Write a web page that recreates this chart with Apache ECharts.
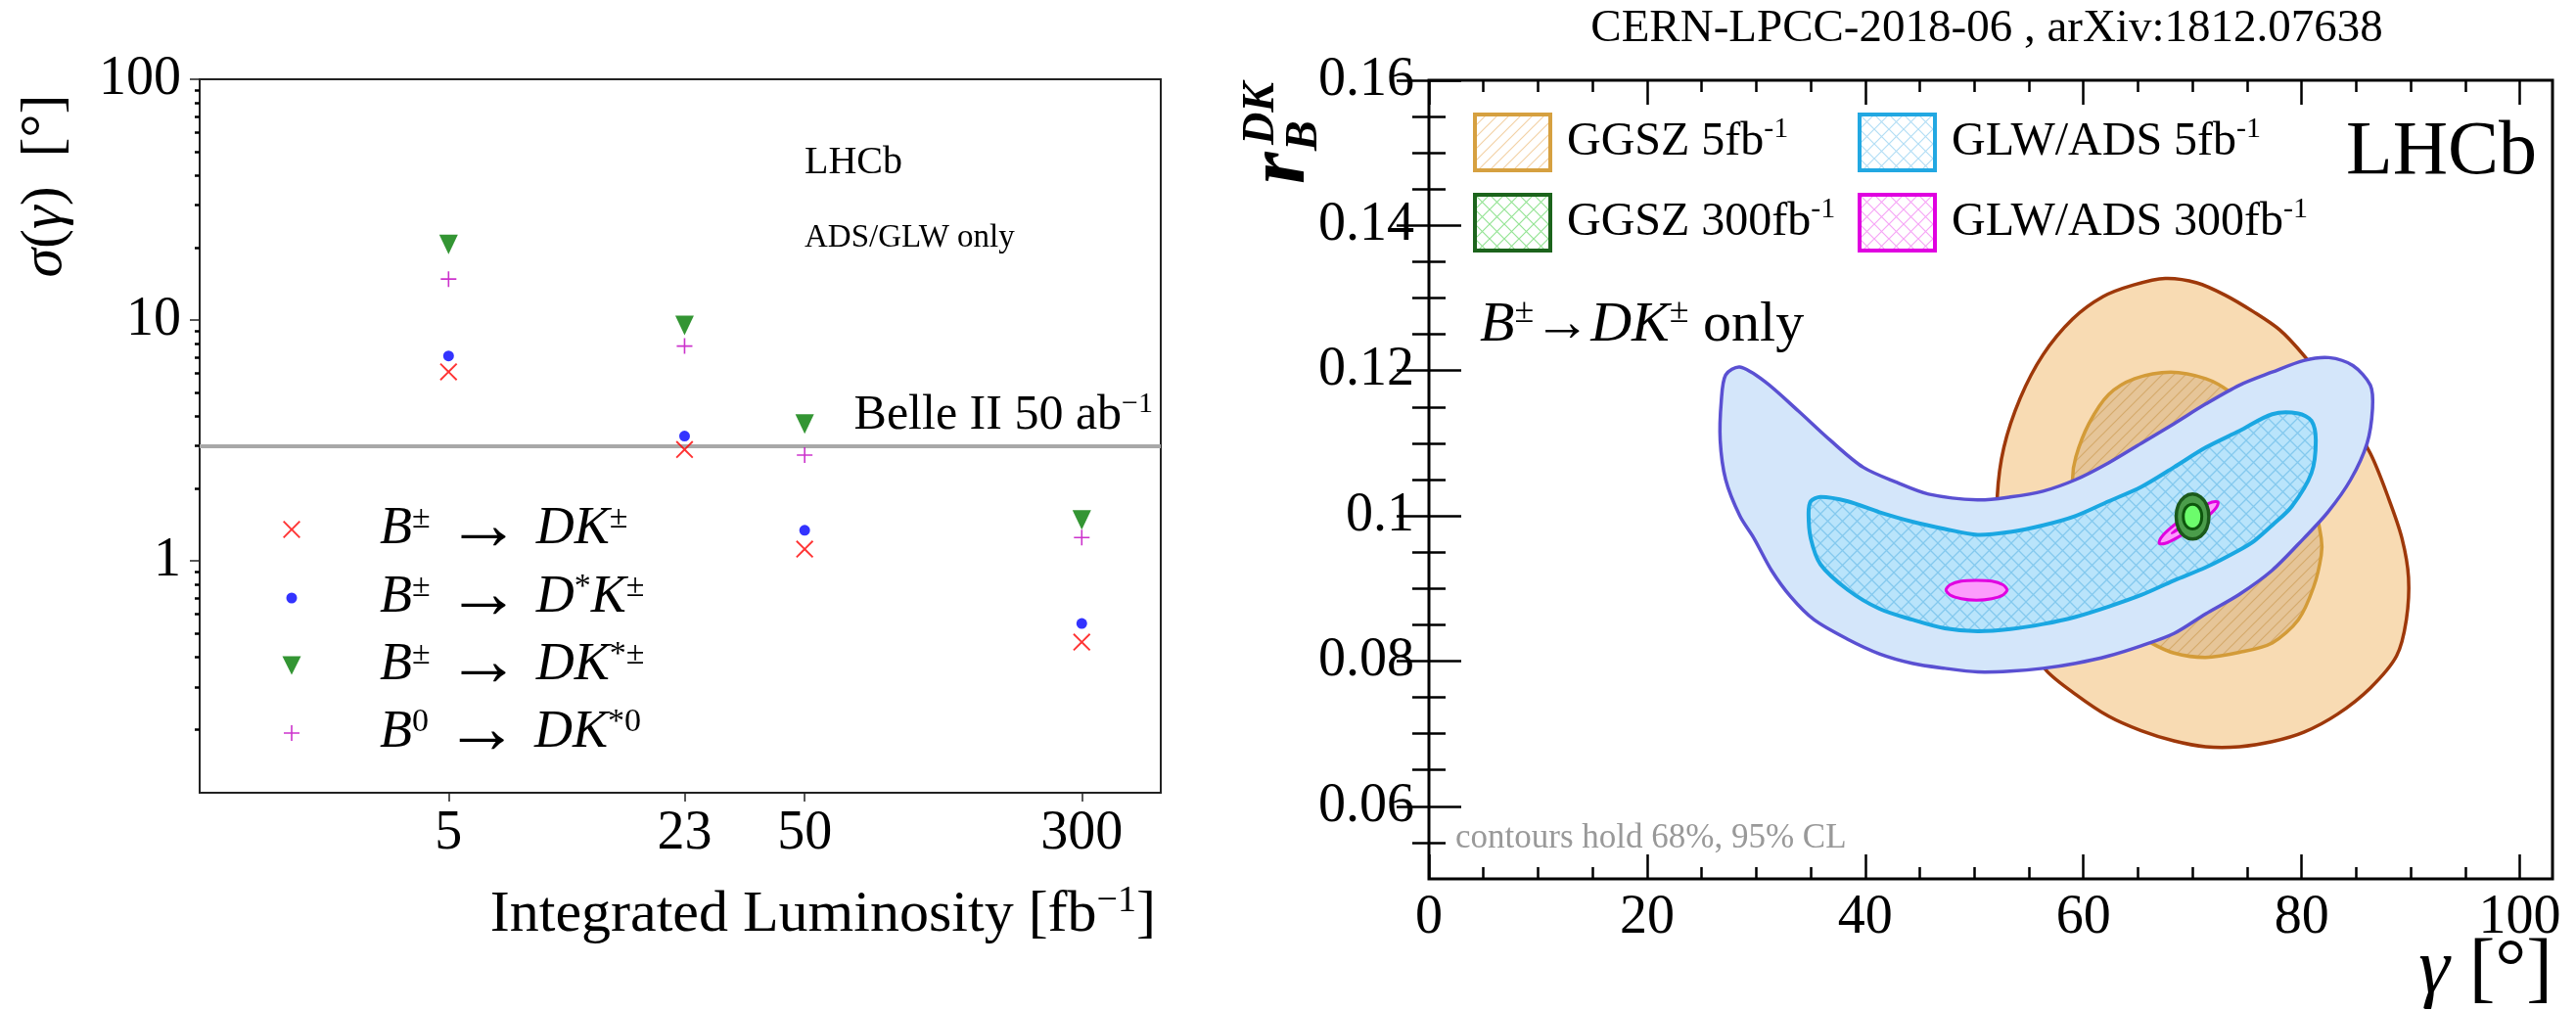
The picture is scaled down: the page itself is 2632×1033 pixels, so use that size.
<!DOCTYPE html>
<html>
<head>
<meta charset="utf-8">
<script src="https://cdn.jsdelivr.net/npm/echarts@6/dist/echarts.min.js"></script>
<style>
html,body{margin:0;padding:0;background:#fff;}
#main{width:2632px;height:1033px;}
</style>
</head>
<body>
<div id="main"></div>
<script>
// ---- left panel: sigma(gamma) vs integrated luminosity ----
var luminosity = [5, 23, 50, 300];
var sigmaDK   = [6.1, 2.9, 1.12, 0.46];
var sigmaDstK = [7.1, 3.3, 1.34, 0.55];
var sigmaDKst = [20.6, 9.5, 3.7, 1.48];
var sigmaDK0  = [14.8, 7.8, 2.75, 1.25];
var belle2 = 3.0;
var lumiTicks = [5, 23, 50, 300];
var sigmaTicks = [1, 10, 100];
var sigmaMinor = [0.2, 0.3, 0.4, 0.5, 0.6, 0.7, 0.8, 0.9, 2, 3, 4, 5, 6, 7, 8, 9, 20, 30, 40, 50, 60, 70, 80, 90];

// ---- right panel: r_B vs gamma contours ----
var gammaTicks = [0, 20, 40, 60, 80, 100];
var gammaMinor = [5, 10, 15, 25, 30, 35, 45, 50, 55, 65, 70, 75, 85, 90, 95];
var rTicks = [0.06, 0.08, 0.1, 0.12, 0.14, 0.16];
var rMinor = [0.055, 0.065, 0.07, 0.075, 0.085, 0.09, 0.095, 0.105, 0.11, 0.115, 0.125, 0.13, 0.135, 0.145, 0.15, 0.155];

var ggsz5Outer = [[64.6,0.1318],[67.5,0.1327],[70.4,0.1321],[73.0,0.1304],[75.6,0.1281],[78.0,0.1256],[80.2,0.1221],[83.3,0.1162],[86.3,0.1086],[88.0,0.1023],[89.2,0.0969],[89.8,0.0915],[89.6,0.0857],[88.7,0.0807],[86.3,0.0763],[83.3,0.0727],[80.2,0.0702],[77.3,0.0689],[74.3,0.0682],[71.2,0.0682],[68.3,0.0690],[65.3,0.0704],[62.3,0.0724],[59.3,0.0754],[56.6,0.0787],[54.6,0.0834],[53.0,0.0902],[52.3,0.0982],[52.1,0.1027],[52.7,0.1094],[54.2,0.1162],[56.3,0.1222],[59.0,0.1271],[61.8,0.1302]];
var ggsz5Inner = [[68.0,0.1198],[71.2,0.1189],[73.4,0.1171],[76.4,0.1131],[79.1,0.1077],[80.9,0.1030],[81.8,0.0969],[81.8,0.0946],[81.1,0.0902],[79.7,0.0857],[77.3,0.0825],[74.3,0.0812],[71.2,0.0805],[68.3,0.0811],[66.2,0.0825],[63.8,0.0848],[61.1,0.0902],[59.3,0.0969],[59.0,0.1050],[59.3,0.1081],[60.5,0.1127],[62.3,0.1167],[64.7,0.1189]];
var glw5Outer = [[28.5,0.1205],[30.8,0.1185],[33.9,0.1144],[36.8,0.1104],[39.8,0.1067],[42.9,0.1046],[45.8,0.1030],[50.3,0.1022],[53.3,0.1026],[56.3,0.1034],[59.3,0.1050],[62.3,0.1073],[65.3,0.1100],[68.3,0.1127],[71.2,0.1154],[74.3,0.1180],[77.3,0.1198],[80.2,0.1214],[82.5,0.1218],[84.7,0.1207],[86.3,0.1180],[86.5,0.1148],[86.0,0.1100],[84.5,0.1050],[82.4,0.1005],[80.2,0.0969],[77.3,0.0925],[74.3,0.0892],[71.2,0.0865],[68.3,0.0838],[65.3,0.0821],[62.3,0.0807],[59.3,0.0797],[56.3,0.0790],[53.3,0.0786],[50.3,0.0785],[47.3,0.0790],[44.3,0.0797],[41.3,0.0810],[38.4,0.0830],[35.3,0.0857],[33.2,0.0888],[31.4,0.0925],[29.8,0.0969],[28.5,0.1000],[27.2,0.1050],[26.7,0.1104],[26.8,0.1158],[27.2,0.1194]];
var glw5Inner = [[35.9,0.1026],[38.4,0.1020],[41.3,0.1005],[44.3,0.0992],[47.3,0.0982],[50.3,0.0974],[53.3,0.0978],[56.3,0.0987],[59.3,0.1000],[62.3,0.1020],[65.3,0.1040],[68.3,0.1067],[71.2,0.1094],[74.3,0.1117],[77.3,0.1140],[79.7,0.1141],[80.9,0.1131],[81.3,0.1104],[80.9,0.1059],[79.1,0.1013],[77.3,0.0987],[75.7,0.0966],[74.3,0.0953],[71.2,0.0929],[68.3,0.0911],[65.3,0.0891],[62.3,0.0875],[59.3,0.0861],[56.3,0.0851],[53.3,0.0844],[50.3,0.0841],[47.3,0.0845],[44.3,0.0857],[41.3,0.0872],[38.4,0.0898],[35.9,0.0933],[35.0,0.0969],[34.8,0.1003],[35.0,0.1020]];
var ggsz300Outer = [[71.5,0.0999],[71.3,0.1015],[70.75,0.1026],[70.0,0.1030],[69.25,0.1026],[68.7,0.1015],[68.5,0.0999],[68.7,0.0983],[69.25,0.0972],[70.0,0.0968],[70.75,0.0972],[71.3,0.0983]];
var ggsz300Inner = [[70.85,0.0999],[70.74,0.1008],[70.43,0.1014],[70.0,0.1016],[69.57,0.1014],[69.26,0.1008],[69.15,0.0999],[69.26,0.0990],[69.57,0.0984],[70.0,0.0982],[70.43,0.0984],[70.74,0.0990]];
var glw300Outer = [[72.34,0.1019],[72.16,0.1011],[71.30,0.0998],[69.99,0.0983],[68.60,0.0970],[67.48,0.0962],[66.94,0.0962],[67.12,0.0970],[67.97,0.0983],[69.27,0.0998],[70.67,0.1011],[71.79,0.1019]];
var glw300Inner = [[71.2,0.1010],[70.9,0.1004],[70.2,0.0996],[69.4,0.0988],[68.6,0.0980],[68.1,0.0976],[68.3,0.0979],[68.9,0.0986],[69.7,0.0994],[70.5,0.1003]];
var glw300Second = [[53.0,0.0898],[52.62,0.0905],[51.6,0.0910],[50.2,0.0911],[48.8,0.0910],[47.78,0.0905],[47.4,0.0898],[47.78,0.0891],[48.8,0.0886],[50.2,0.0884],[51.6,0.0886],[52.62,0.0891]];

var FONT = "'Liberation Serif', 'Times New Roman', serif";

function makeHatch(bg, color, step, lw, dirs) {
	var c = document.createElement('canvas');
	c.width = step; c.height = step;
	var g = c.getContext('2d');
	if (bg) { g.fillStyle = bg; g.fillRect(0, 0, step, step); }
	g.strokeStyle = color; g.lineWidth = lw;
	g.beginPath();
	if (dirs.indexOf('/') >= 0) {
		g.moveTo(-2, step + 2); g.lineTo(step + 2, -2);
		g.moveTo(-2, 2); g.lineTo(2, -2);
		g.moveTo(step - 2, step + 2); g.lineTo(step + 2, step - 2);
	}
	if (dirs.indexOf('\\') >= 0) {
		g.moveTo(-2, -2); g.lineTo(step + 2, step + 2);
		g.moveTo(step - 2, -2); g.lineTo(step + 2, 2);
		g.moveTo(-2, step - 2); g.lineTo(2, step + 2);
	}
	g.stroke();
	return { image: c, repeat: 'repeat' };
}

var hatchGgszIn = makeHatch('#e6c598', '#d5ab6c', 12, 1.2, '/');
var hatchGlwIn = makeHatch('#b9e4fb', '#84c9ee', 15, 1.3, '/\\');
var legGgsz5 = makeHatch('#ffffff', '#f3d2a6', 12, 1.2, '/');
var legGlw5 = makeHatch('#ffffff', '#b3def5', 15, 1.2, '/\\');
var legGgsz300 = makeHatch('#ffffff', '#95e495', 15, 1.2, '/\\');
var legGlw300 = makeHatch('#ffffff', '#f6a6f6', 15, 1.2, '/\\');

function contour(name, pts, fill, stroke, lw) {
	return {
		type: 'custom', name: name, xAxisIndex: 1, yAxisIndex: 2,
		data: [0], silent: true,
		renderItem: function (params, api) {
			return {
				type: 'polygon',
				shape: { points: pts.map(function (p) { return api.coord(p); }), smooth: 0.3 },
				style: { fill: fill, stroke: stroke, lineWidth: lw }
			};
		}
	};
}

function pairs(ys) {
	return luminosity.map(function (x, i) { return [x, ys[i]]; });
}

var X_PATH = 'path://M0,1.5L1.5,0L10,8.5L18.5,0L20,1.5L11.5,10L20,18.5L18.5,20L10,11.5L1.5,20L0,18.5L8.5,10Z';
var PLUS_PATH = 'path://M9,0H11V9H20V11H11V20H9V11H0V9H9Z';
var TRI_PATH = 'path://M0,0L20,0L10,20Z';

var leftLabels = {
	DK:   '{i|B}{s|±}{g| }{a|→}{g| }{i|DK}{s|±}',
	DstK: '{i|B}{s|±}{g| }{a|→}{g| }{i|D}{s|*}{i|K}{s|±}',
	DKst: '{i|B}{s|±}{g| }{a|→}{g| }{i|DK}{s|*±}',
	DK0:  '{i|B}{s|0}{g| }{a|→}{g| }{i|DK}{s|*0}'
};
var leftRich = {
	i: { fontFamily: FONT, fontStyle: 'italic', fontSize: 54, lineHeight: 56, color: '#000' },
	g: { fontFamily: FONT, fontSize: 64, lineHeight: 56, color: '#000' },
	a: { fontFamily: FONT, fontSize: 76, lineHeight: 56, color: '#000' },
	s: { fontFamily: FONT, fontSize: 34, lineHeight: 32, verticalAlign: 'top', color: '#000' }
};
var leftNames = ['DK', 'DstK', 'DKst', 'DK0'];
var leftRows = [531, 601, 670, 739];
var leftIcon = [[18, 18], [11, 11], [19, 20], [16, 16]];
var legends = leftNames.map(function (n, k) {
	var w = leftIcon[k][0], h = leftIcon[k][1];
	var lx = 298 - w / 2;
	return {
		data: [n], orient: 'vertical', left: lx, top: leftRows[k] - 28,
		itemWidth: w, itemHeight: h, padding: 0, itemGap: 0, selectedMode: false,
		formatter: function (name) { return leftLabels[name]; },
		textStyle: { rich: leftRich, padding: [0, 0, 0, 388 - (lx + w + 5)] }
	};
});

var rightLabels = {
	GGSZ5: '{n|GGSZ 5fb}{s|-1}', GGSZ300: '{n|GGSZ 300fb}{s|-1}',
	GLW5: '{n|GLW/ADS 5fb}{s|-1}', GLW300: '{n|GLW/ADS 300fb}{s|-1}'
};
var rightRich = {
	n: { fontFamily: FONT, fontSize: 48, lineHeight: 57, color: '#000' },
	s: { fontFamily: FONT, fontSize: 30, lineHeight: 30, verticalAlign: 'top', color: '#000' }
};
function rightLegend(left, items) {
	return {
		data: items, orient: 'vertical', left: left, top: 115,
		itemWidth: 77, itemHeight: 57, itemGap: 21, padding: 0, selectedMode: false,
		formatter: function (name) { return rightLabels[name]; },
		textStyle: { rich: rightRich, padding: [0, 0, 0, 12] }
	};
}
legends.push(rightLegend(1505, [
	{ name: 'GGSZ5', icon: 'rect', itemStyle: { color: legGgsz5, borderColor: '#d6a040', borderWidth: 4 } },
	{ name: 'GGSZ300', icon: 'rect', itemStyle: { color: legGgsz300, borderColor: '#1c641c', borderWidth: 4 } }
]));
legends.push(rightLegend(1898, [
	{ name: 'GLW5', icon: 'rect', itemStyle: { color: legGlw5, borderColor: '#22a8e2', borderWidth: 4 } },
	{ name: 'GLW300', icon: 'rect', itemStyle: { color: legGlw300, borderColor: '#e000e0', borderWidth: 4 } }
]));

function tickAxis(grid, pos, type, min, max, vals, len, inside) {
	return {
		gridIndex: grid, type: type, position: pos, min: min, max: max,
		axisLine: { show: false }, splitLine: { show: false },
		axisLabel: { show: false },
		axisTick: { show: true, inside: inside, length: len, customValues: vals, lineStyle: { color: '#000', width: 2.5 } }
	};
}

var labelStyle = { fontFamily: FONT, color: '#000' };

var myChart = echarts.init(document.getElementById('main'));
var option = {
	animation: false,
	backgroundColor: '#fff',
	legend: legends,
	grid: [
		{ left: 204, right: 1446, top: 81, bottom: 223, show: true, borderColor: '#222', borderWidth: 2, containLabel: false },
		{ left: 1460, right: 24, top: 82, bottom: 135, show: true, borderColor: '#000', borderWidth: 3, containLabel: false }
	],
	xAxis: [
		{
			gridIndex: 0, type: 'log', min: 1, max: 500, position: 'bottom',
			axisLine: { show: false }, splitLine: { show: false }, minorTick: { show: false },
			axisTick: { show: true, inside: false, length: 9, customValues: lumiTicks, lineStyle: { color: '#222', width: 1.5 } },
			axisLabel: Object.assign({ customValues: lumiTicks, fontSize: 56, margin: 14,
				formatter: function (v) { return String(Math.round(v)); } }, labelStyle)
		},
		{
			gridIndex: 1, type: 'value', min: 0, max: 103, position: 'bottom',
			axisLine: { show: false }, splitLine: { show: false },
			axisTick: { show: true, inside: true, length: 25, customValues: gammaTicks, lineStyle: { color: '#000', width: 2.5 } },
			axisLabel: Object.assign({ customValues: gammaTicks, fontSize: 56, margin: 12 }, labelStyle)
		},
		tickAxis(1, 'bottom', 'value', 0, 103, gammaMinor, 12, true),
		tickAxis(1, 'top', 'value', 0, 103, gammaTicks, 25, true),
		tickAxis(1, 'top', 'value', 0, 103, gammaMinor, 12, true)
	],
	yAxis: [
		{
			gridIndex: 0, type: 'log', min: 0.109, max: 100, position: 'left',
			axisLine: { show: false }, splitLine: { show: false }, minorTick: { show: false },
			axisTick: { show: true, inside: false, length: 10, customValues: sigmaTicks, lineStyle: { color: '#222', width: 1.5 } },
			axisLabel: Object.assign({ customValues: sigmaTicks, fontSize: 56, margin: 19,
				formatter: function (v) { return String(Math.round(v)); } }, labelStyle)
		},
		tickAxis(0, 'left', 'log', 0.109, 100, sigmaMinor, 5, false),
		{
			gridIndex: 1, type: 'value', min: 0.05, max: 0.16, position: 'left',
			axisLine: { show: false }, splitLine: { show: false },
			axisTick: { show: true, inside: true, length: 33, customValues: rTicks, lineStyle: { color: '#000', width: 2.5 } },
			axisLabel: Object.assign({ customValues: rTicks, fontSize: 56, margin: 15,
				formatter: function (v) { return String(+v.toFixed(2)); } }, labelStyle)
		},
		tickAxis(1, 'left', 'value', 0.05, 0.16, rMinor, 17, true),
		tickAxis(1, 'right', 'value', 0.05, 0.16, rTicks, 33, true),
		tickAxis(1, 'right', 'value', 0.05, 0.16, rMinor, 17, true)
	],
	series: [
		{
			type: 'scatter', name: 'DK', xAxisIndex: 0, yAxisIndex: 0, data: pairs(sigmaDK),
			symbol: X_PATH, symbolSize: 18, itemStyle: { color: '#ff0000' }, z: 5,
			markLine: {
				silent: true, symbol: 'none', label: { show: false },
				lineStyle: { color: '#a8a8a8', width: 4, type: 'solid' },
				data: [{ yAxis: belle2 }]
			}
		},
		{ type: 'scatter', name: 'DstK', xAxisIndex: 0, yAxisIndex: 0, data: pairs(sigmaDstK),
			symbol: 'circle', symbolSize: 11, itemStyle: { color: '#0000ff' }, z: 5 },
		{ type: 'scatter', name: 'DKst', xAxisIndex: 0, yAxisIndex: 0, data: pairs(sigmaDKst),
			symbol: TRI_PATH, symbolSize: [19, 20], itemStyle: { color: '#007a00' }, z: 5 },
		{ type: 'scatter', name: 'DK0', xAxisIndex: 0, yAxisIndex: 0, data: pairs(sigmaDK0),
			symbol: PLUS_PATH, symbolSize: 16, itemStyle: { color: '#bf00bf' }, z: 5 },

		contour('GGSZ5', ggsz5Outer, '#f8dbb3', '#9e380a', 3.5),
		contour('GGSZ5', ggsz5Inner, hatchGgszIn, '#d39b38', 3.5),
		contour('GLW5', glw5Outer, '#d4e6fa', '#5a50d2', 3.5),
		contour('GLW5', glw5Inner, hatchGlwIn, '#1aa7e2', 4),
		contour('GLW300', glw300Second, '#fc9cfc', '#e000e0', 3),
		contour('GLW300', glw300Outer, '#fc9cfc', '#e000e0', 3),
		contour('GLW300', glw300Inner, '#fb86fb', '#e000e0', 2),
		contour('GGSZ300', ggsz300Outer, '#4b9d4b', '#1b5a1b', 3.5),
		contour('GGSZ300', ggsz300Inner, '#6cfc6c', '#0d560d', 3)
	],
	graphic: [
		// left panel texts
		{ type: 'text', x: 46, y: 190, rotation: Math.PI / 2,
			style: { text: '{i|σ}{r|(}{i|γ}{r|)  [°]}', align: 'center', verticalAlign: 'middle',
				rich: { i: { fontFamily: FONT, fontStyle: 'italic', fontSize: 60 }, r: { fontFamily: FONT, fontSize: 60 } } } },
		{ type: 'text', x: 1181, y: 935,
			style: { text: '{n|Integrated Luminosity [fb}{s|−1}{n|]}', align: 'right', verticalAlign: 'middle',
				rich: { n: { fontFamily: FONT, fontSize: 60, lineHeight: 66 }, s: { fontFamily: FONT, fontSize: 38, lineHeight: 38, verticalAlign: 'top' } } } },
		{ type: 'text', x: 822, y: 166,
			style: { text: 'LHCb', fontFamily: FONT, fontSize: 40, fill: '#000', align: 'left', verticalAlign: 'middle' } },
		{ type: 'text', x: 822, y: 243,
			style: { text: 'ADS/GLW only', fontFamily: FONT, fontSize: 33, fill: '#000', align: 'left', verticalAlign: 'middle' } },
		{ type: 'text', x: 1178, y: 425,
			style: { text: '{n|Belle II 50 ab}{s|−1}', align: 'right', verticalAlign: 'middle',
				rich: { n: { fontFamily: FONT, fontSize: 50, lineHeight: 54, color: '#999' }, s: { fontFamily: FONT, fontSize: 30, lineHeight: 30, verticalAlign: 'top', color: '#999' } } } },
		// right panel texts
		{ type: 'text', x: 2030, y: 30,
			style: { text: 'CERN-LPCC-2018-06 , arXiv:1812.07638', fontFamily: FONT, fontSize: 47, fill: '#000', align: 'center', verticalAlign: 'middle' } },
		{ type: 'text', x: 2397, y: 157,
			style: { text: 'LHCb', fontFamily: FONT, fontSize: 78, fill: '#000', align: 'left', verticalAlign: 'middle' } },
		{ type: 'text', x: 1512, y: 333,
			style: { text: '{i|B}{s|±}{r|→}{i|DK}{s|±}{r| only}', align: 'left', verticalAlign: 'middle',
				rich: { i: { fontFamily: FONT, fontStyle: 'italic', fontSize: 58, lineHeight: 62 }, r: { fontFamily: FONT, fontSize: 58, lineHeight: 62 },
					s: { fontFamily: FONT, fontSize: 36, lineHeight: 36, verticalAlign: 'top' } } } },
		{ type: 'text', x: 1487, y: 857,
			style: { text: 'contours hold 68%, 95% CL', fontFamily: FONT, fontSize: 35, fill: '#999', align: 'left', verticalAlign: 'middle' } },
		{ type: 'text', x: 2608, y: 993,
			style: { text: '{i|γ}{r| [°]}', align: 'right', verticalAlign: 'middle',
				rich: { i: { fontFamily: FONT, fontStyle: 'italic', fontSize: 80 }, r: { fontFamily: FONT, fontSize: 80 } } } },
		{ type: 'group', x: 1352, y: 188, rotation: Math.PI / 2, children: [
			{ type: 'text', x: 0, y: 0, style: { text: 'r', fontFamily: FONT, fontStyle: 'italic', fontWeight: 'bold', fontSize: 84, fill: '#000', align: 'left', verticalAlign: 'bottom' } },
			{ type: 'text', x: 34, y: 4, style: { text: 'B', fontFamily: FONT, fontStyle: 'italic', fontWeight: 'bold', fontSize: 46, fill: '#000', align: 'left', verticalAlign: 'bottom' } },
			{ type: 'text', x: 40, y: -40, style: { text: 'DK', fontFamily: FONT, fontStyle: 'italic', fontWeight: 'bold', fontSize: 46, fill: '#000', align: 'left', verticalAlign: 'bottom' } }
		] }
	]
};
myChart.setOption(option);
</script>
</body>
</html>
